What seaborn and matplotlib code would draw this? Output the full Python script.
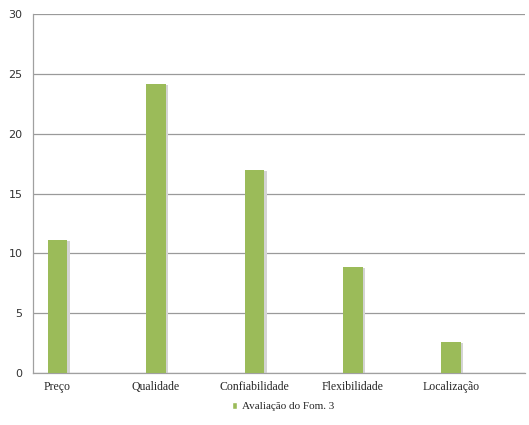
import numpy as np
import pandas as pd
import matplotlib
matplotlib.use("Agg")
import matplotlib.pyplot as plt
import seaborn as sns
from matplotlib.patches import Patch

# data
categories = ["Preço", "Qualidade", "Confiabilidade", "Flexibilidade", "Localização"]
values = [11.1, 24.15, 16.95, 8.85, 2.6]
series_name = "Avaliação do Fom. 3"

# each category sits in the first half of a double slot
positions = [2 * i for i in range(len(categories))]
df = pd.DataFrame({"pos": positions, "val": values, "cat": categories})

sns.set_style("white")
plt.rcParams["font.family"] = ["Liberation Serif", "DejaVu Serif"]

fig = plt.figure(figsize=(5.29, 4.25), dpi=100)
ax = fig.add_axes([0.0624, 0.1224, 0.93, 0.8446])

# soft shadow behind the bars
ax.bar(df["pos"] + 0.05, df["val"] - 0.1, width=0.4, color="#d4d4d4",
       linewidth=0, zorder=2)
sns.barplot(data=df, x="pos", y="val", native_scale=True, width=0.2,
            color="#9bbb59", saturation=1, linewidth=0, edgecolor="none",
            ax=ax, zorder=3)

ax.set_xlim(-0.5, 9.5)
ax.set_ylim(0, 30)
ax.set_yticks(range(0, 31, 5))
ax.set_xticks(positions)
ax.set_xticklabels(categories, fontsize=8.5)
ax.set_xticks(np.arange(-0.5, 10, 1), minor=True)
ax.tick_params(axis="x", which="major", length=0, pad=6)
ax.tick_params(axis="x", which="minor", length=4, color="#a0a0a0", width=0.8)
ax.tick_params(axis="y", length=4, color="#a0a0a0", width=0.8, labelsize=8)
for lbl in ax.get_yticklabels():
    lbl.set_fontfamily("DejaVu Sans")
    lbl.set_color("#333333")
ax.set_xlabel("")
ax.set_ylabel("")

ax.grid(axis="y", color="#9a9a9a", linewidth=0.9, zorder=0)
ax.set_axisbelow(True)
for side in ["top", "right"]:
    ax.spines[side].set_visible(False)
for side in ["left", "bottom"]:
    ax.spines[side].set_color("#a0a0a0")
    ax.spines[side].set_linewidth(0.9)

handle = Patch(facecolor="#9bbb59", label=series_name)
fig.legend(handles=[handle], loc="center", bbox_to_anchor=(0.535, 0.043),
           frameon=False, fontsize=8, handlelength=0.5, handleheight=0.5,
           handletextpad=0.4)

fig.savefig("out.png", dpi=100)
